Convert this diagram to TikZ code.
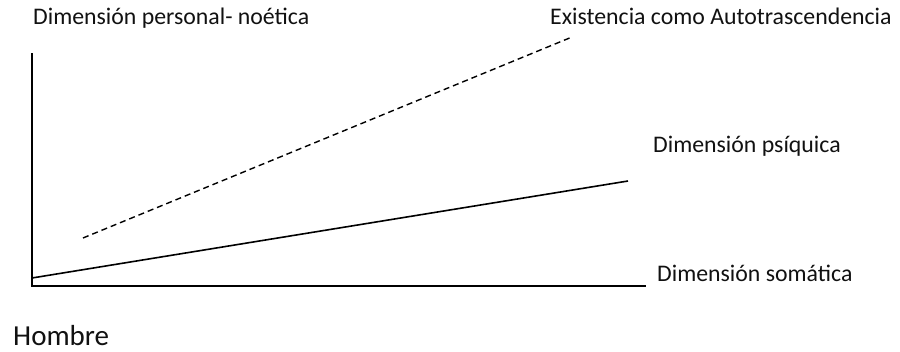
\documentclass[tikz,border=0pt]{standalone}
\usepackage{fontspec}
\setmainfont{Carlito}
\usetikzlibrary{positioning}
\definecolor{ink}{HTML}{000000}
\definecolor{labtext}{HTML}{111111}
\tikzset{
  % ---- axes and lines --------------------------------------------
  axis/.style     = {draw=ink, line width=2pt, line cap=rect},
  psiline/.style  = {draw=ink, line width=1.6pt},
  noeline/.style  = {draw=ink, line width=1.4pt, dash pattern=on 6pt off 4pt},
  % ---- labels ----------------------------------------------------
  dimlab/.style   = {font=\fontsize{23.8}{27}\selectfont, text=labtext,
                     anchor=base west, inner sep=0pt},
  manlab/.style   = {dimlab, font=\fontsize{29}{32}\selectfont},
}
\begin{document}
\begin{tikzpicture}[x=1pt, y=-1pt]
  \useasboundingbox (0,0) rectangle (900,352);
  \coordinate (o)    at (32,286);
  \coordinate (ytop) at (32,54);
  \coordinate (xend) at (645,286);
  \coordinate (psiA) at (32,278);
  \coordinate (psiB) at (628,181);
  \coordinate (noeA) at (83,238);
  \coordinate (noeB) at (572,37);
  \draw[axis] (ytop) -- (o) -- (xend);
  \draw[psiline] (psiA) -- (psiB);
  \draw[noeline] (noeA) -- (noeB);
  \node[dimlab] (noetica) at (33,25)  {Dimensión personal- noética};
  \node[dimlab] (autotr)  at (550,25) {Existencia como Autotrascendencia};
  \node[dimlab] (psiq)    at (653,153) {Dimensión psíquica};
  \node[dimlab] (somat)   at (657,282) {Dimensión somática};
  \node[manlab] (hombre)  at (13,345.5) {Hombre};
\end{tikzpicture}
\end{document}
